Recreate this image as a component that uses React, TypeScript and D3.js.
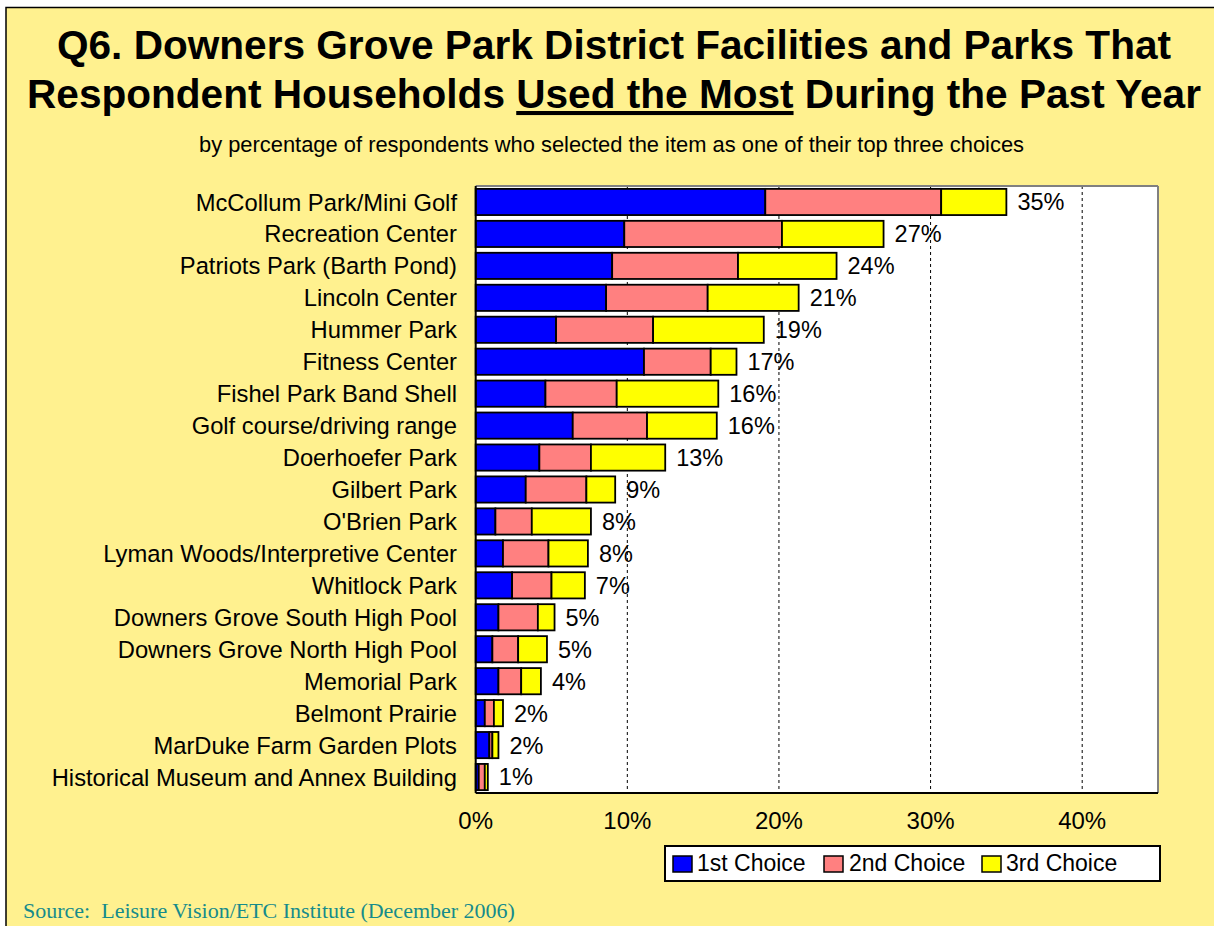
import React from "react";
import * as d3 from "d3";

const categories = [
  "McCollum Park/Mini Golf",
  "Recreation Center",
  "Patriots Park (Barth Pond)",
  "Lincoln Center",
  "Hummer Park",
  "Fitness Center",
  "Fishel Park Band Shell",
  "Golf course/driving range",
  "Doerhoefer Park",
  "Gilbert Park",
  "O'Brien Park",
  "Lyman Woods/Interpretive Center",
  "Whitlock Park",
  "Downers Grove South High Pool",
  "Downers Grove North High Pool",
  "Memorial Park",
  "Belmont Prairie",
  "MarDuke Farm Garden Plots",
  "Historical Museum and Annex Building",
];

const firstChoice = [19.1, 9.8, 9.0, 8.6, 5.3, 11.1, 4.6, 6.4, 4.2, 3.3, 1.3, 1.8, 2.4, 1.5, 1.1, 1.5, 0.6, 0.9, 0.2];
const secondChoice = [11.6, 10.4, 8.3, 6.7, 6.4, 4.4, 4.7, 4.9, 3.4, 4.0, 2.4, 3.0, 2.6, 2.6, 1.7, 1.5, 0.6, 0.2, 0.4];
const thirdChoice = [4.3, 6.7, 6.5, 6.0, 7.3, 1.7, 6.7, 4.6, 4.9, 1.9, 3.9, 2.6, 2.2, 1.1, 1.9, 1.3, 0.6, 0.4, 0.2];
const totalLabels = ["35%", "27%", "24%", "21%", "19%", "17%", "16%", "16%", "13%", "9%", "8%", "8%", "7%", "5%", "5%", "4%", "2%", "2%", "1%"];

const seriesNames = ["1st Choice", "2nd Choice", "3rd Choice"];
const seriesColors = ["#0000FF", "#FF8080", "#FFFF00"];
const xTicks = [0, 10, 20, 30, 40];

const W = 1214;
const H = 926;
const BG = "#FFF18F";
const SANS = "'Liberation Sans', Arial, sans-serif";

export default function App() {
  const plot = { left: 475.7, right: 1158, top: 186, bottom: 793 };
  const x = d3.scaleLinear().domain([0, 45]).range([plot.left, plot.right]);
  const y = d3
    .scaleBand<string>()
    .domain(categories)
    .range([plot.top, plot.bottom])
    .paddingInner(0.18)
    .paddingOuter(0.09);

  const rows = categories.map((c, i) => ({
    cat: c,
    first: firstChoice[i],
    second: secondChoice[i],
    third: thirdChoice[i],
  }));
  const stack = d3.stack<any>().keys(["first", "second", "third"]);
  const layers = stack(rows);

  const legendItems = [
    { swX: 673, txX: 697 },
    { swX: 824, txX: 849 },
    { swX: 982, txX: 1006 },
  ];

  return (
    <div style={{ position: "absolute", left: 0, top: 0, width: W, height: H }}>
      <svg width={W} height={H} style={{ display: "block" }}>
        <rect x={0} y={0} width={W} height={H} fill="#FFFFFF" />
        <rect x={6} y={7.5} width={W + 10} height={H + 10} fill={BG} stroke="#000" strokeWidth={1.5} />

        {/* Title */}
        <text x={614} y={59} textAnchor="middle" fontFamily={SANS} fontWeight="bold" fontSize={40.6} fill="#000">
          Q6. Downers Grove Park District Facilities and Parks That
        </text>
        <text x={614} y={108} textAnchor="middle" fontFamily={SANS} fontWeight="bold" fontSize={40.6} fill="#000">
          Respondent Households <tspan textDecoration="underline" style={{ textDecoration: "underline" }}>Used the Most</tspan> During the Past Year
        </text>
        <text x={611.5} y={152} textAnchor="middle" fontFamily={SANS} fontSize={21.9} fill="#000">
          by percentage of respondents who selected the item as one of their top three choices
        </text>

        {/* Plot area */}
        <rect x={plot.left} y={plot.top} width={plot.right - plot.left} height={plot.bottom - plot.top} fill="#FFFFFF" />
        {xTicks.filter((t) => t > 0).map((t) => (
          <line key={t} x1={x(t)} x2={x(t)} y1={plot.top} y2={plot.bottom} stroke="#000" strokeWidth={1} strokeDasharray="3,3" />
        ))}
        <line x1={plot.left} x2={plot.right} y1={plot.top} y2={plot.top} stroke="#808080" strokeWidth={2} />
        <line x1={plot.right} x2={plot.right} y1={plot.top} y2={plot.bottom} stroke="#808080" strokeWidth={2} />

        {/* Bars */}
        {layers.map((layer, li) => (
          <g key={li}>
            {layer.map((d, i) => (
              <rect
                key={i}
                x={x(d[0])}
                y={y(categories[i])!}
                width={Math.max(0, x(d[1]) - x(d[0]))}
                height={y.bandwidth()}
                fill={seriesColors[li]}
                stroke="#000"
                strokeWidth={1.8}
              />
            ))}
          </g>
        ))}

        {/* axes */}
        <line x1={plot.left} x2={plot.left} y1={plot.top} y2={plot.bottom} stroke="#000" strokeWidth={2} />
        <line x1={plot.left} x2={plot.right} y1={plot.bottom} y2={plot.bottom} stroke="#000" strokeWidth={2} />

        {/* Value labels */}
        {rows.map((r, i) => (
          <text
            key={i}
            x={x(r.first + r.second + r.third) + 11}
            y={y(r.cat)! + y.bandwidth() / 2}
            dy="0.36em"
            fontFamily={SANS}
            fontSize={23.5}
            fill="#000"
          >
            {totalLabels[i]}
          </text>
        ))}

        {/* Category labels */}
        {categories.map((c) => (
          <text
            key={c}
            x={457}
            y={y(c)! + y.bandwidth() / 2}
            dy="0.36em"
            textAnchor="end"
            fontFamily={SANS}
            fontSize={23.75}
            fill="#000"
          >
            {c}
          </text>
        ))}

        {/* X tick labels */}
        {xTicks.map((t) => (
          <text key={t} x={x(t)} y={829} textAnchor="middle" fontFamily={SANS} fontSize={24} fill="#000">
            {t}%
          </text>
        ))}

        {/* Legend */}
        <rect x={665} y={846} width={495} height={35} fill="#FFFFFF" stroke="#000" strokeWidth={2} />
        {seriesNames.map((s, i) => (
          <g key={s}>
            <rect x={legendItems[i].swX} y={856} width={19} height={16} fill={seriesColors[i]} stroke="#000" strokeWidth={1.5} />
            <text x={legendItems[i].txX} y={871} fontFamily={SANS} fontSize={23} fill="#000">
              {s}
            </text>
          </g>
        ))}

        {/* Source */}
        <text x={23} y={918} fontFamily="'Liberation Serif', 'Times New Roman', serif" fontSize={22} fill="#168B8B" xmlSpace="preserve">
          Source:  Leisure Vision/ETC Institute (December 2006)
        </text>
      </svg>
    </div>
  );
}
